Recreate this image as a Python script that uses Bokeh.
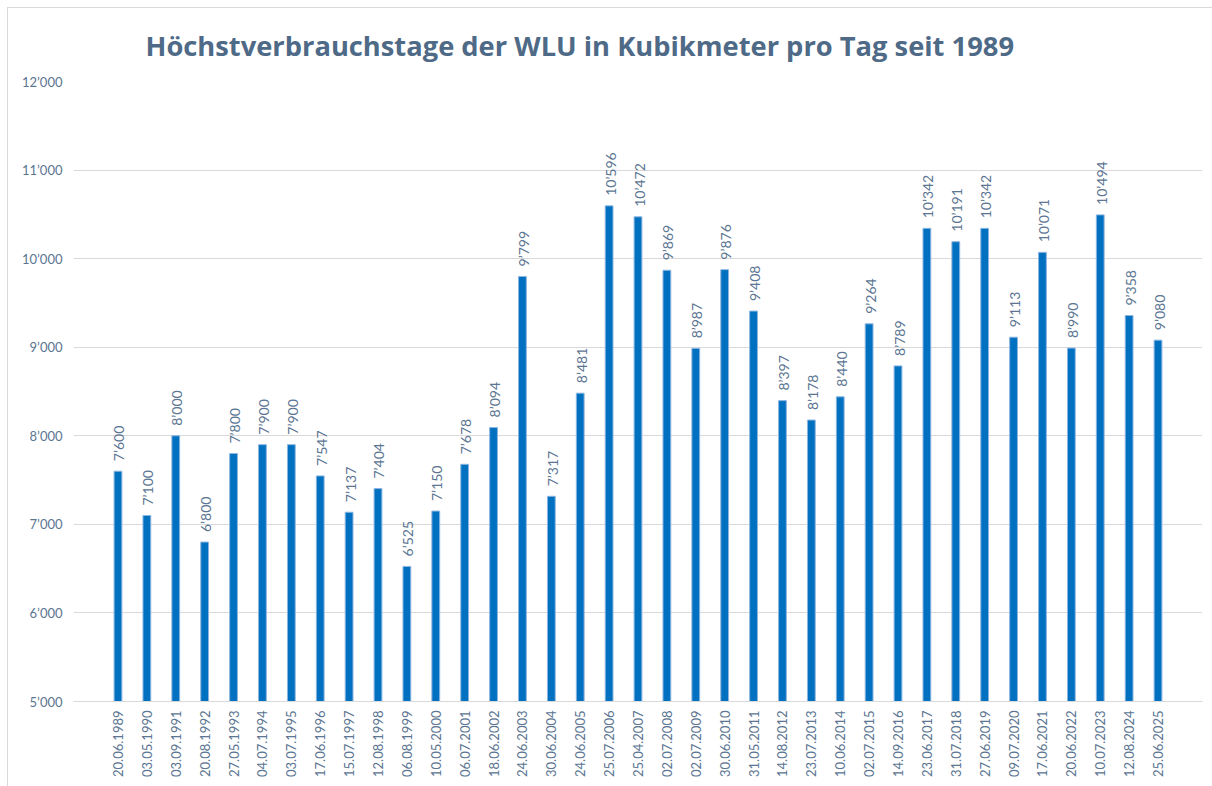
import math
from bokeh.plotting import figure
from bokeh.models import ColumnDataSource, FactorRange, Range1d, FixedTicker
from bokeh.core.properties import value
from bokeh.embed import file_html
from bokeh.resources import INLINE

dates = ["20.06.1989", "03.05.1990", "03.09.1991", "20.08.1992", "27.05.1993",
         "04.07.1994", "03.07.1995", "17.06.1996", "15.07.1997", "12.08.1998",
         "06.08.1999", "10.05.2000", "06.07.2001", "18.06.2002", "24.06.2003",
         "30.06.2004", "24.06.2005", "25.07.2006", "25.04.2007", "02.07.2008",
         "02.07.2009", "30.06.2010", "31.05.2011", "14.08.2012", "23.07.2013",
         "10.06.2014", "02.07.2015", "14.09.2016", "23.06.2017", "31.07.2018",
         "27.06.2019", "09.07.2020", "17.06.2021", "20.06.2022", "10.07.2023",
         "12.08.2024", "25.06.2025"]
values = [7600, 7100, 8000, 6800, 7800, 7900, 7900, 7547, 7137, 7404,
          6525, 7150, 7678, 8094, 9799, 7317, 8481, 10596, 10472, 9869,
          8987, 9876, 9408, 8397, 8178, 8440, 9264, 8789, 10342, 10191,
          10342, 9113, 10071, 8990, 10494, 9358, 9080]
y_ticks = [5000, 6000, 7000, 8000, 9000, 10000, 11000, 12000]
y_tick_labels = ["5’000", "6’000", "7’000", "8’000", "9’000", "10’000", "11’000", "12’000"]
title_text = "Höchstverbrauchstage der WLU in Kubikmeter pro Tag seit 1989"

labels = [f"{v:,}".replace(",", "’") for v in values]
source = ColumnDataSource(data=dict(date=dates, value=values, label=labels))

FONT = "Lato"
TEXT_COLOR = "#5B7592"
TITLE_COLOR = "#4E6A87"
GRID = "#D9D9D9"

p = figure(
    width=1210, height=784,
    x_range=FactorRange(factors=dates, range_padding=1.04, range_padding_units="absolute"),
    y_range=Range1d(y_ticks[0], y_ticks[-1]),
    output_backend="svg", toolbar_location=None,
    min_border_left=73, min_border_right=8, min_border_top=81, min_border_bottom=83,
    title=title_text,
)
p.outline_line_color = None
p.background_fill_color = "white"
p.border_fill_color = "white"
p.stylesheets = [":host::after { content: ''; position: absolute; left: 7px; top: 7px; "
                 "right: -20px; bottom: -20px; border-left: 1px solid #D9D9D9; "
                 "border-top: 1px solid #D9D9D9; pointer-events: none; z-index: 5; }"]

p.title.align = "left"
p.title.offset = 72
p.title.standoff = 36
p.title.vertical_align = "bottom"
p.title.text_font = "Open Sans"
p.title.text_font_style = "bold"
p.title.text_font_size = "27.3px"
p.title.text_color = TITLE_COLOR

p.vbar(x="date", top="value", bottom=y_ticks[0], width=0.27, source=source,
       fill_color="#0070C0", line_color="#8DB6E0", line_width=1)

p.text(x="date", y="value", text="label", source=source, angle=math.pi / 2,
       text_align="left", text_baseline="middle", y_offset=-10, x_offset=1,
       text_font=value(FONT), text_font_size="14px", text_color=TEXT_COLOR)

# axes
p.xgrid.grid_line_color = None
p.ygrid.grid_line_color = GRID
p.ygrid.grid_line_width = 1
p.yaxis.ticker = FixedTicker(ticks=y_ticks)
p.yaxis.major_label_overrides = {t: l for t, l in zip(y_ticks, y_tick_labels)}
p.yaxis.axis_line_color = None
p.yaxis.major_tick_line_color = None
p.yaxis.minor_tick_line_color = None
p.yaxis.major_tick_out = 0
p.yaxis.major_label_standoff = 11
p.yaxis.major_label_text_font = FONT
p.yaxis.major_label_text_font_size = "13px"
p.yaxis.major_label_text_color = TEXT_COLOR

p.xaxis.axis_line_color = GRID
p.xaxis.major_tick_line_color = None
p.xaxis.major_tick_out = 0
p.xaxis.major_label_orientation = math.pi / 2
p.xaxis.major_label_standoff = 9
p.xaxis.major_label_text_font = FONT
p.xaxis.major_label_text_font_size = "13px"
p.xaxis.major_label_text_color = TEXT_COLOR

open("out.html", "w").write(file_html(p, INLINE))
